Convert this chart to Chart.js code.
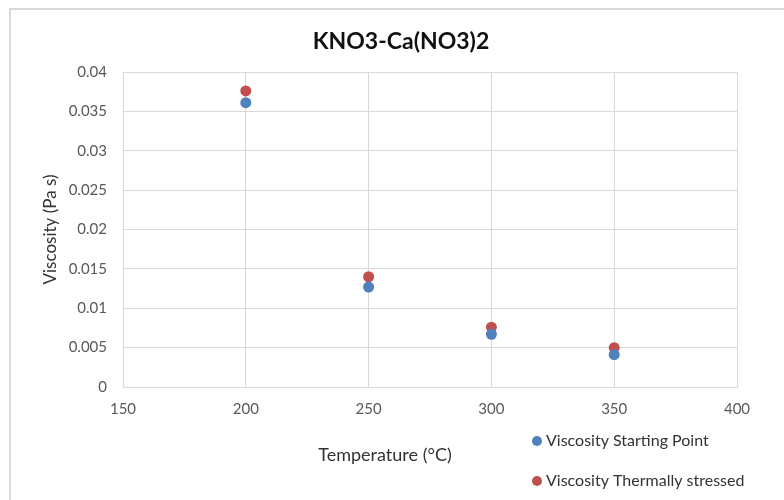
<!DOCTYPE html>
<html>
<head>
<meta charset="utf-8">
<script src="https://cdn.jsdelivr.net/npm/chart.js@4"></script>
<style>
  html, body { margin: 0; padding: 0; background: #fff; }
  #wrap { position: relative; width: 784px; height: 500px; overflow: hidden; }
  #frame { position: absolute; left: 9px; top: 8px; width: 800px; height: 520px;
           border: 2px solid #d9d9d9; box-sizing: border-box; }
  #chart { position: absolute; left: 0; top: 0; }
</style>
</head>
<body>
<div id="wrap">
  <div id="frame"></div>
  <canvas id="chart" width="784" height="500"></canvas>
</div>
<script>
// KNO3-Ca(NO3)2 viscosity vs temperature (Excel-style scatter)

const FONT = 'Lato, "Open Sans", sans-serif';

// Data
const temperatures = [200, 250, 300, 350];
const startingPoint = [0.0361, 0.0127, 0.0067, 0.0041];
const thermallyStressed = [0.0376, 0.0140, 0.0076, 0.0050];

// Axes
const xTickValues = [150, 200, 250, 300, 350, 400];
const yTickValues = [0, 0.005, 0.01, 0.015, 0.02, 0.025, 0.03, 0.035, 0.04];

const seriesNames = ['Viscosity Starting Point', 'Viscosity Thermally stressed'];
const seriesColors = ['#4F81BD', '#C0504D'];

function toPoints(xs, ys) {
  return xs.map((x, i) => ({ x: x, y: ys[i] }));
}

// Title, x-axis title and legend are placed like Excel does, off the plot centre
const excelDecor = {
  id: 'excelDecor',
  afterDraw(chart) {
    const ctx = chart.ctx;
    ctx.save();
    ctx.textBaseline = 'middle';

    ctx.fillStyle = '#111';
    ctx.font = 'bold 23px ' + FONT;
    ctx.textAlign = 'center';
    ctx.fillText('KNO3-Ca(NO3)2', 401, 42);

    ctx.fillStyle = '#333';
    ctx.font = '18px ' + FONT;
    ctx.fillText('Temperature (°C)', 385, 455);

    ctx.textAlign = 'left';
    ctx.font = '16px ' + FONT;
    const rows = [441, 481];
    seriesNames.forEach((name, i) => {
      ctx.fillStyle = seriesColors[i];
      ctx.beginPath();
      ctx.arc(537, rows[i], 5, 0, Math.PI * 2);
      ctx.fill();
      ctx.fillStyle = '#333';
      ctx.fillText(name, 546, rows[i]);
    });
    ctx.restore();
  }
};

new Chart(document.getElementById('chart'), {
  type: 'scatter',
  data: {
    datasets: [
      {
        label: seriesNames[0],
        data: toPoints(temperatures, startingPoint),
        backgroundColor: seriesColors[0],
        borderColor: seriesColors[0],
        borderWidth: 0,
        pointRadius: 5.5,
      },
      {
        label: seriesNames[1],
        data: toPoints(temperatures, thermallyStressed),
        backgroundColor: seriesColors[1],
        borderColor: seriesColors[1],
        borderWidth: 0,
        pointRadius: 5.5,
      }
    ]
  },
  options: {
    responsive: false,
    animation: false,
    layout: {
      padding: { left: 10, right: 47, top: 72, bottom: 0 }
    },
    plugins: {
      legend: { display: false },
      title: { display: false },
      tooltip: { enabled: false }
    },
    scales: {
      x: {
        type: 'linear',
        min: xTickValues[0],
        max: xTickValues[xTickValues.length - 1],
        afterBuildTicks: function(scale) {
          scale.ticks = xTickValues.map(v => ({ value: v }));
        },
        afterFit: function(scale) { scale.height = 113; },
        grid: { color: '#d9d9d9', drawTicks: false },
        border: { color: '#d9d9d9' },
        ticks: {
          padding: 13,
          color: '#595959',
          font: { family: FONT, size: 15 }
        }
      },
      y: {
        min: yTickValues[0],
        max: yTickValues[yTickValues.length - 1],
        afterBuildTicks: function(scale) {
          scale.ticks = yTickValues.map(v => ({ value: v }));
        },
        afterFit: function(scale) { scale.width = 113; },
        grid: { color: '#d9d9d9', drawTicks: false },
        border: { color: '#d9d9d9' },
        ticks: {
          padding: 16,
          color: '#595959',
          font: { family: FONT, size: 15 },
          callback: function(value) {
            return String(Number(value.toFixed(3)));
          }
        },
        title: {
          display: true,
          text: 'Viscosity (Pa s)',
          color: '#333',
          font: { family: FONT, size: 17 },
          padding: { top: 30, bottom: 0 }
        }
      }
    }
  },
  plugins: [excelDecor]
});
</script>
</body>
</html>
